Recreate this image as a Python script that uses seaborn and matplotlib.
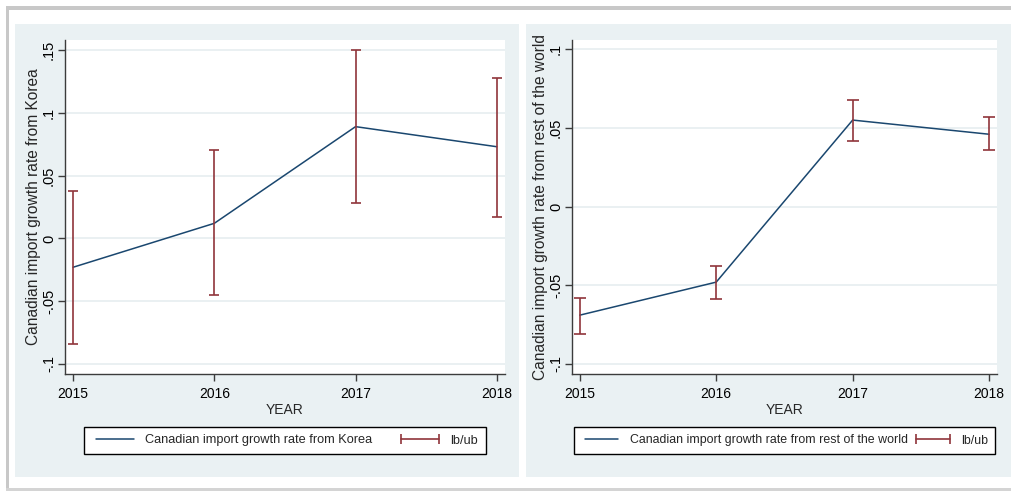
import matplotlib
matplotlib.use("Agg")
import matplotlib.pyplot as plt
from matplotlib.lines import Line2D
from matplotlib.patches import Rectangle
import seaborn as sns
import pandas as pd

# data
years = [2015, 2016, 2017, 2018]
korea_rate = [-0.023, 0.012, 0.089, 0.073]
korea_lb = [-0.084, -0.045, 0.028, 0.017]
korea_ub = [0.038, 0.070, 0.150, 0.128]
row_rate = [-0.069, -0.048, 0.055, 0.046]
row_lb = [-0.081, -0.059, 0.042, 0.036]
row_ub = [-0.058, -0.038, 0.068, 0.057]

korea_ticks = [-0.1, -0.05, 0, 0.05, 0.1, 0.15]
korea_ticklabels = ['-.1', '-.05', '0', '.05', '.1', '.15']
row_ticks = [-0.1, -0.05, 0, 0.05, 0.1]
row_ticklabels = ['-.1', '-.05', '0', '.05', '.1']

navy = '#1a476f'
maroon = '#90353b'
panel_bg = '#eaf1f3'
grid_col = '#e6eef0'

sns.set_style("white")
plt.rcParams['font.family'] = ['Liberation Sans', 'DejaVu Sans']

W, H = 1012, 491
fig = plt.figure(figsize=(W / 100, H / 100), dpi=100)
fig.patch.set_facecolor('white')

# outer frame lines and panel backgrounds (pixel boxes -> figure fractions)
def box(x0, y0, x1, y1, color):
    fig.patches.append(Rectangle((x0 / W, 1 - y1 / H), (x1 - x0) / W, (y1 - y0) / H,
                                 transform=fig.transFigure, facecolor=color,
                                 edgecolor='none', zorder=-5))

box(6, 6, W, 10, '#c8c8c8')
box(6, 6, 9, H, '#c8c8c8')
box(6, 488, W, H, '#d4d4d4')
box(15, 24, 519, 477, panel_bg)
box(526, 24, W, 477, panel_bg)


def panel(rect, rate, lb, ub, ticks, ticklabels, ylim, ylabel, legend_label,
          leg_center, capsize, handlelen, colspacing, legsize):
    ax = fig.add_axes([rect[0] / W, 1 - rect[3] / H,
                       (rect[2] - rect[0]) / W, (rect[3] - rect[1]) / H])
    ax.set_zorder(2)
    ax.set_facecolor('white')
    df = pd.DataFrame({'YEAR': years, 'rate': rate, 'lb': lb, 'ub': ub})
    sns.lineplot(data=df, x='YEAR', y='rate', ax=ax, color=navy, lw=1.1, zorder=3)
    mid = (df['lb'] + df['ub']) / 2
    half = (df['ub'] - df['lb']) / 2
    ax.errorbar(df['YEAR'], mid, yerr=half, fmt='none', ecolor=maroon,
                elinewidth=1.2, capsize=capsize, capthick=1.2, zorder=4)
    ax.set_xlim(2014.943, 2018.058)
    ax.set_ylim(*ylim)
    ax.set_xticks(years)
    ax.set_xticklabels([str(y) for y in years])
    ax.set_yticks(ticks)
    ax.set_yticklabels(ticklabels, rotation=90, va='center')
    ax.grid(axis='y', color=grid_col, lw=1.2)
    ax.grid(axis='x', visible=False)
    for s in ['top', 'right']:
        ax.spines[s].set_visible(False)
    for s in ['left', 'bottom']:
        ax.spines[s].set_color('#3c3c3c')
        ax.spines[s].set_linewidth(1.0)
    ax.tick_params(axis='both', direction='out', length=5, width=1.0,
                   color='#3c3c3c', labelcolor='black',
                   left=True, bottom=True)
    ax.tick_params(axis='x', labelsize=10, pad=4.5)
    ax.tick_params(axis='y', labelsize=10.5, pad=1.5)
    ax.set_xlabel('YEAR', fontsize=10, labelpad=1.5)
    ax.set_ylabel(ylabel, fontsize=11.2, labelpad=1)

    handles = [Line2D([0, 1], [0, 0], color=navy, lw=1.1),
               Line2D([0, 1], [0, 0], color=maroon, lw=1.2, marker='|',
                      markersize=7, markeredgewidth=1.2)]
    leg = fig.legend(handles, [legend_label, 'lb/ub'], loc='center',
                     bbox_to_anchor=(leg_center[0] / W, 1 - leg_center[1] / H),
                     ncol=2, fontsize=legsize, frameon=True, fancybox=False,
                     numpoints=2, handlelength=handlelen, handletextpad=0.6,
                     columnspacing=colspacing, borderpad=0.6)
    leg.set_zorder(5)
    leg.get_frame().set_edgecolor('black')
    leg.get_frame().set_linewidth(1.0)
    leg.get_frame().set_facecolor('white')
    leg.get_frame().set_alpha(1.0)
    return ax


panel((65, 40, 505, 374), korea_rate, korea_lb, korea_ub, korea_ticks,
      korea_ticklabels, (-0.108, 0.158),
      'Canadian import growth rate from Korea',
      'Canadian import growth rate from Korea', (285, 440.5), 3.8, 3.6, 1.9, 9.2)
panel((572, 40, 997, 374), row_rate, row_lb, row_ub, row_ticks,
      row_ticklabels, (-0.1064, 0.1059),
      'Canadian import growth rate from rest of the world',
      'Canadian import growth rate from rest of the world', (784.5, 440.5), 4.5, 3.3, 0.4, 8.9)

fig.savefig('out.png', dpi=100)
